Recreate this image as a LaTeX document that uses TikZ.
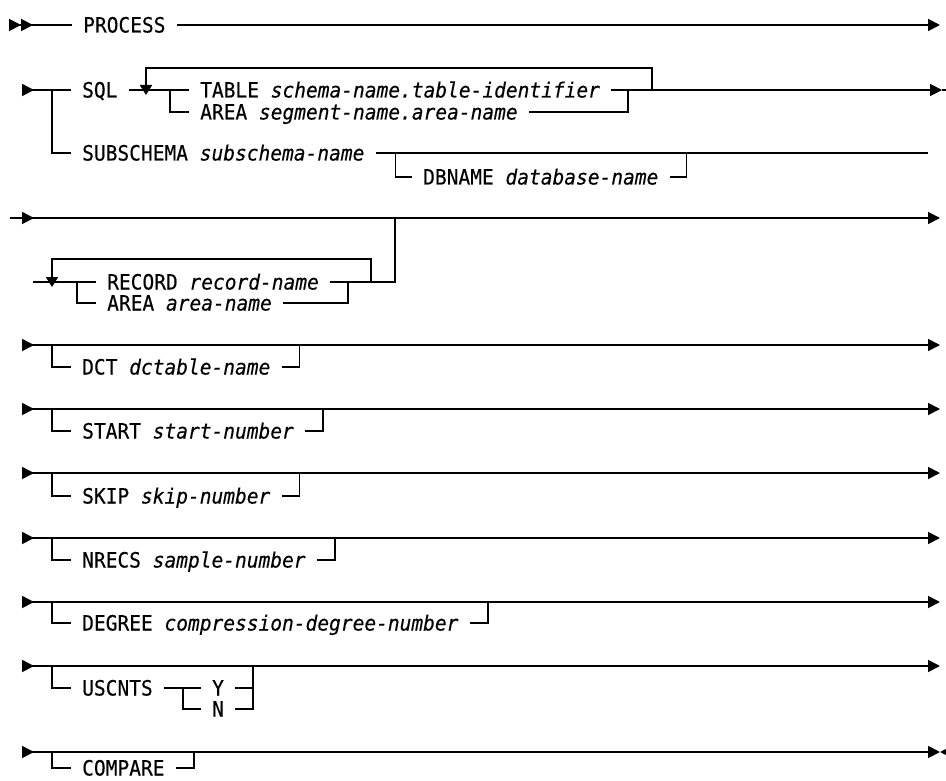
\documentclass[tikz,border=0pt]{standalone}
\usepackage{fontspec}
\setmonofont{DejaVu Sans Mono}[FakeStretch=0.93, FakeBold=0.3]
\usetikzlibrary{arrows.meta, positioning}

\begin{document}
\begin{tikzpicture}[
  x=1pt, y=-1pt,
  every node/.style={font=\ttfamily\fontsize{21}{24}\selectfont},
  kw/.style={anchor=west, inner xsep=11pt, inner ysep=0pt,
             text height=15pt, text depth=0pt},
  rail/.style={line width=1.8pt},
  go/.style={rail, -{Triangle[length=12pt, width=12pt]}},
  entry/.style={rail, {Triangle[reversed, length=12pt, width=12pt]}-},
  twin/.style={rail, {Triangle[reversed, length=12pt, width=12pt, sep=0pt]
                      Triangle[reversed, length=12pt, width=12pt]}-},
  main/.style={rail, {Triangle[reversed, length=12pt, width=12pt]}-{Triangle[length=12pt, width=12pt]}},
  loopback/.style={rail, -{Triangle[length=10pt, width=12pt]}},
]
\path[use as bounding box, fill=white] (0,0) rectangle (946,781);

% keywords
\node[kw] (process)   at (72,25)   {PROCESS};
\node[kw] (sql)       at (71,90)   {SQL};
\node[kw] (table)     at (189,90)  {TABLE \textit{schema-name.table-identifier}};
\node[kw] (areaseg)   at (189,112) {AREA \textit{segment-name.area-name}};
\node[kw] (subschema) at (71,153)  {SUBSCHEMA \textit{subschema-name}};
\node[kw] (dbname)    at (412,177) {DBNAME \textit{database-name}};
\node[kw] (record)    at (96,282)  {RECORD \textit{record-name}};
\node[kw] (areaname)  at (96,303)  {AREA \textit{area-name}};
\node[kw] (dct)       at (71,367)  {DCT \textit{dctable-name}};
\node[kw] (startno)   at (71,431)  {START \textit{start-number}};
\node[kw] (skip)      at (71,496)  {SKIP \textit{skip-number}};
\node[kw] (nrecs)     at (71,560)  {NRECS \textit{sample-number}};
\node[kw] (degree)    at (71,623)  {DEGREE \textit{compression-degree-number}};
\node[kw] (uscnts)    at (71,688)  {USCNTS};
\node[kw] (yes)       at (201,688) {Y};
\node[kw] (no)        at (201,709) {N};
\node[kw] (compare)   at (71,768)  {COMPARE};

% rail ends
\coordinate (col)   at (52,0);
\coordinate (rim)   at (940,0);
\coordinate (row1)  at (9,25);
\coordinate (row2)  at (22,90);
\coordinate (lead3) at (10,218);
\coordinate (row3)  at (22,218);
\coordinate (row4)  at (33,282);
\coordinate (row5)  at (22,345);
\coordinate (row6)  at (22,409);
\coordinate (row7)  at (22,473);
\coordinate (row8)  at (22,538);
\coordinate (row9)  at (22,602);
\coordinate (row10) at (22,666);
\coordinate (row11) at (22,752);

% PROCESS
\draw[twin] (row1) -- (process.west);
\draw[go] (process.east) -- (row1 -| rim);

% SQL / SUBSCHEMA
\coordinate (fork2) at (170,90);
\coordinate (down2) at (146,95);
\coordinate (end2)  at (942,90);
\coordinate (tail2) at (946,90);
\coordinate (end2b) at (928,153);
\coordinate[right=17pt of table.east] (join2);
\coordinate[right=41pt of table.east] (back2);
\coordinate[right=20pt of subschema.east] (fork2b);
\coordinate[right=17pt of dbname.east] (join2b);
\draw[entry] (row2) -- (sql.west);
\draw[rail] (col |- row2) |- (subschema.west);
\draw[rail] (sql.east) -- (table.west);
\draw[rail] (fork2) |- (areaseg.west);
\draw[rail] (areaseg.east) -| (join2);
\draw[loopback] (back2) -- ++(0,-22) -| (down2);
\draw[go] (table.east) -- (end2);
\draw[rail] (end2) -- (tail2);
\draw[rail] (subschema.east) -- (end2b);
\draw[rail] (fork2b) |- (dbname.west);
\draw[rail] (dbname.east) -| (join2b |- subschema.east);

% RECORD / AREA
\coordinate (drop3) at (395,218);
\coordinate (fork4) at (77,282);
\coordinate (down4) at (52,287);
\coordinate[right=18pt of record.east] (join4);
\coordinate[right=41pt of record.east] (back4);
\draw[rail] (lead3) -- (row3);
\draw[main] (row3) -- (row3 -| rim);
\draw[rail] (record.east) -| (drop3);
\draw[rail] (row4) -- (record.west);
\draw[rail] (fork4) |- (areaname.west);
\draw[rail] (areaname.east) -| (join4);
\draw[loopback] (back4) -- ++(0,-23) -| (down4);

% DCT
\coordinate[right=18pt of dct.east] (join5);
\draw[main] (row5) -- (row5 -| rim);
\draw[rail] (col |- row5) |- (dct.west);
\draw[rail] (dct.east) -| (join5 |- row5);

% START
\coordinate[right=18pt of startno.east] (join6);
\draw[main] (row6) -- (row6 -| rim);
\draw[rail] (col |- row6) |- (startno.west);
\draw[rail] (startno.east) -| (join6 |- row6);

% SKIP
\coordinate[right=18pt of skip.east] (join7);
\draw[main] (row7) -- (row7 -| rim);
\draw[rail] (col |- row7) |- (skip.west);
\draw[rail] (skip.east) -| (join7 |- row7);

% NRECS
\coordinate[right=18pt of nrecs.east] (join8);
\draw[main] (row8) -- (row8 -| rim);
\draw[rail] (col |- row8) |- (nrecs.west);
\draw[rail] (nrecs.east) -| (join8 |- row8);

% DEGREE
\coordinate[right=18pt of degree.east] (join9);
\draw[main] (row9) -- (row9 -| rim);
\draw[rail] (col |- row9) |- (degree.west);
\draw[rail] (degree.east) -| (join9 |- row9);

% USCNTS
\coordinate (fork10) at (183,688);
\coordinate[right=18pt of no.east] (join10);
\draw[main] (row10) -- (row10 -| rim);
\draw[rail] (col |- row10) |- (uscnts.west);
\draw[rail] (uscnts.east) -- (yes.west);
\draw[rail] (fork10) |- (no.west);
\draw[rail] (no.east) -| (join10 |- row10);
\draw[rail] (yes.east) -- (yes.east -| join10);

% COMPARE
\coordinate (stop) at (952,752);
\coordinate[right=18pt of compare.east] (join11);
\draw[main] (row11) -- (row11 -| rim);
\draw[rail] (col |- row11) |- (compare.west);
\draw[rail] (compare.east) -| (join11 |- row11);
\draw[rail, {Triangle[length=12pt, width=12pt]}-] (row11 -| rim) -- (stop);
\end{tikzpicture}
\end{document}
